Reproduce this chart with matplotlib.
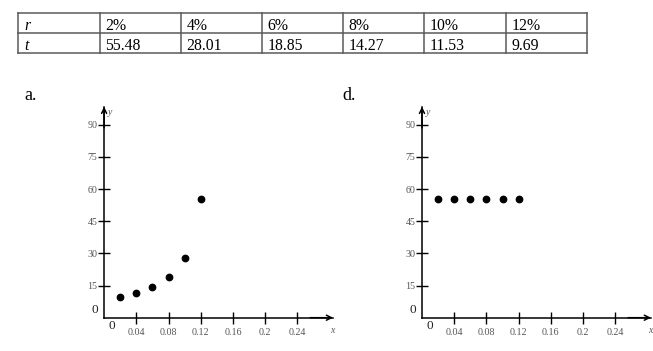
import matplotlib
matplotlib.use("Agg")
import matplotlib.pyplot as plt

plt.rcParams['font.family'] = ['Liberation Serif', 'DejaVu Serif']

# ---- data ----
table_header = ["r", "t"]
rates = ["2%", "4%", "6%", "8%", "10%", "12%"]
times = ["55.48", "28.01", "18.85", "14.27", "11.53", "9.69"]

a_x = [0.02, 0.04, 0.06, 0.08, 0.10, 0.12]
a_y = [9.69, 11.53, 14.27, 18.85, 28.01, 55.48]
d_x = [0.02, 0.04, 0.06, 0.08, 0.10, 0.12]
d_y = [55.48, 55.48, 55.48, 55.48, 55.48, 55.48]

x_ticks = [0.04, 0.08, 0.12, 0.16, 0.2, 0.24]
x_ticklabels = ["0.04", "0.08", "0.12", "0.16", "0.2", "0.24"]
y_ticks = [15, 30, 45, 60, 75, 90]
y_ticklabels = ["15", "30", "45", "60", "75", "90"]
panel_labels = ["a.", "d."]

W, H = 653, 351
fig = plt.figure(figsize=(W / 100, H / 100), dpi=100)

def px_axes(left, top, right, bottom):
    return fig.add_axes([left / W, 1 - bottom / H, (right - left) / W, (bottom - top) / H])

# ---- table ----
tax = px_axes(18.3, 13.3, 586.7, 53.3)
ncol = len(rates) + 1
tax.set_xlim(0, ncol)
tax.set_ylim(0, 2)
tax.axis('off')
lc = '#5a5a5a'
for yy in [0, 1, 2]:
    tax.plot([0, ncol], [yy, yy], color=lc, lw=1.1, clip_on=False, solid_capstyle='projecting')
for xx in range(ncol + 1):
    tax.plot([xx, xx], [0, 2], color=lc, lw=1.1, clip_on=False, solid_capstyle='projecting')
fs_tab = 11.3
pad = 0.07
tax.text(pad, 1.165, table_header[0], style='italic', fontsize=fs_tab, va='baseline', ha='left')
tax.text(pad, 0.165, table_header[1], style='italic', fontsize=fs_tab, va='baseline', ha='left')
for i, (rv, tv) in enumerate(zip(rates, times)):
    tax.text(i + 1 + pad, 1.165, rv, fontsize=fs_tab, va='baseline', ha='left')
    tax.text(i + 1 + pad, 0.165, tv, fontsize=fs_tab, va='baseline', ha='left')

# ---- plots ----
xscale = 805.0   # px per x unit
yscale = 193.0 / 90  # px per y unit
x_end_px = 229.0
y_end_px = 211.0
tick_col = '#555555'

def make_plot(ox, oy, xs, ys, label, label_xy):
    ax = px_axes(ox, oy - y_end_px, ox + x_end_px, oy)
    xmax = x_end_px / xscale
    ymax = y_end_px / yscale
    ax.set_xlim(0, xmax)
    ax.set_ylim(0, ymax)
    for s in ['top', 'right']:
        ax.spines[s].set_visible(False)
    for s in ['left', 'bottom']:
        ax.spines[s].set_linewidth(1.1)
        ax.spines[s].set_color('black')
    ax.set_xticks(x_ticks)
    ax.set_xticklabels(x_ticklabels)
    ax.set_yticks(y_ticks)
    ax.set_yticklabels(y_ticklabels)
    ax.tick_params(axis='both', direction='inout', length=8.5, width=1.0, colors='black',
                   labelcolor=tick_col, labelsize=7.2)
    ax.tick_params(axis='x', pad=3)
    ax.tick_params(axis='y', pad=0.5)
    ax.annotate('', xy=(xmax, 0), xytext=(xmax * 0.9, 0),
                arrowprops=dict(arrowstyle='->', lw=1.1, color='black', shrinkA=0, shrinkB=0,
                                mutation_scale=9), annotation_clip=False)
    ax.annotate('', xy=(0, ymax), xytext=(0, ymax * 0.9),
                arrowprops=dict(arrowstyle='->', lw=1.1, color='black', shrinkA=0, shrinkB=0,
                                mutation_scale=9), annotation_clip=False)
    ax.scatter(xs, ys, s=21, color='black', zorder=3, clip_on=False)
    # origin labels
    fig.text((ox - 9.5) / W, 1 - 310 / H, '0', fontsize=9.5, ha='center', va='center', color='#222222')
    fig.text((ox + 7.6) / W, 1 - 326 / H, '0', fontsize=9.5, ha='center', va='center', color='#222222')
    fig.text((ox + 228) / W, 1 - 330.5 / H, 'x', fontsize=7, style='italic', ha='center', va='center', color=tick_col)
    fig.text((ox + 6) / W, 1 - 112 / H, 'y', fontsize=7, style='italic', ha='center', va='center', color=tick_col)
    fig.text(label_xy[0] / W, 1 - label_xy[1] / H, label, fontsize=13, ha='left', va='baseline')
    return ax

make_plot(104.1, 317.7, a_x, a_y, panel_labels[0], (24.5, 100.5))
make_plot(422.0, 317.7, d_x, d_y, panel_labels[1], (342.5, 100.5))

fig.savefig('out.png', dpi=100)
